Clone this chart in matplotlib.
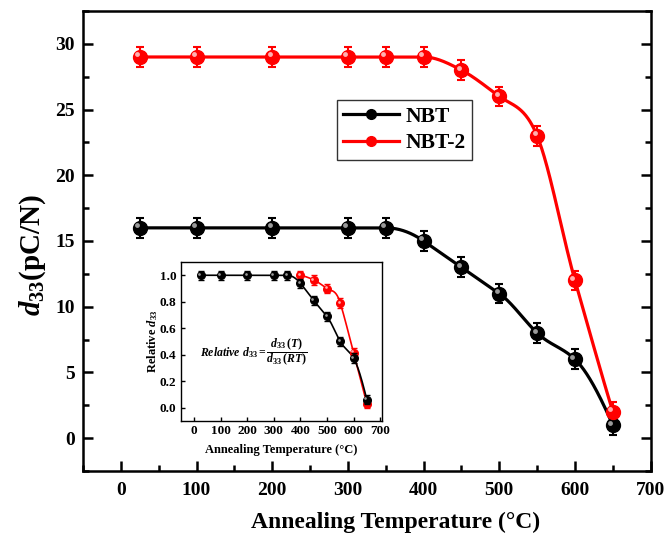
import numpy as np
import matplotlib
matplotlib.use("Agg")
import matplotlib.pyplot as plt
from matplotlib.ticker import MultipleLocator, FormatStrFormatter
from matplotlib.transforms import offset_copy
from matplotlib.lines import Line2D

plt.rcParams['font.family'] = ['Liberation Serif', 'DejaVu Serif']
plt.rcParams['font.weight'] = 'bold'
plt.rcParams['mathtext.fontset'] = 'custom'
plt.rcParams['mathtext.rm'] = 'Liberation Serif:bold'
plt.rcParams['mathtext.it'] = 'Liberation Serif:italic:bold'
plt.rcParams['mathtext.bf'] = 'Liberation Serif:bold'

# Annealing temperatures (°C)
temps = [25, 100, 200, 300, 350, 400, 450, 500, 550, 600, 650]

# d33 (pC/N)
d33_nbt = [16, 16, 16, 16, 16, 15, 13, 11, 8, 6, 1]
d33_nbt2 = [29, 29, 29, 29, 29, 29, 28, 26, 23, 12, 2]
err_main = [0.75] * 11

# Relative d33 (inset)
rel_nbt = [1.0, 1.0, 1.0, 1.0, 1.0, 0.94, 0.81, 0.69, 0.50, 0.375, 0.06]
rel_nbt2_temps = [400, 450, 500, 550, 600, 650]
rel_nbt2 = [1.0, 0.965, 0.90, 0.79, 0.415, 0.03]
err_rel = [0.035] * 11

series_labels = ['NBT', 'NBT-2']


def akima(x, y, xs):
    """Akima spline through the points (no overshoot on flat stretches)."""
    x = np.asarray(x, float)
    y = np.asarray(y, float)
    h = np.diff(x)
    m = np.diff(y) / h
    n = len(x)
    mm = np.empty(n + 3)
    mm[2:n + 1] = m
    mm[1] = 2 * mm[2] - mm[3]
    mm[0] = 2 * mm[1] - mm[2]
    mm[n + 1] = 2 * mm[n] - mm[n - 1]
    mm[n + 2] = 2 * mm[n + 1] - mm[n]
    t = np.empty(n)
    for i in range(n):
        w1 = abs(mm[i + 3] - mm[i + 2])
        w2 = abs(mm[i + 1] - mm[i])
        if w1 + w2 < 1e-12:
            t[i] = 0.5 * (mm[i + 1] + mm[i + 2])
        else:
            t[i] = (w1 * mm[i + 1] + w2 * mm[i + 2]) / (w1 + w2)
    out = np.empty(len(xs))
    idx = np.clip(np.searchsorted(x, xs) - 1, 0, n - 2)
    for j, xv in enumerate(xs):
        k = idx[j]
        s = (xv - x[k]) / h[k]
        h00 = 2 * s**3 - 3 * s**2 + 1
        h10 = s**3 - 2 * s**2 + s
        h01 = -2 * s**3 + 3 * s**2
        h11 = s**3 - s**2
        out[j] = h00 * y[k] + h10 * h[k] * t[k] + h01 * y[k + 1] + h11 * h[k] * t[k + 1]
    return out


def sphere_points(ax, x, y, yerr, color, light, ms, cap, lw_err, z=5):
    ax.errorbar(x, y, yerr=yerr, fmt='o', color=color, ms=ms, mec=color,
                capsize=cap, elinewidth=lw_err, capthick=lw_err, zorder=z)
    tr = offset_copy(ax.transData, fig=ax.figure, x=-ms * 0.18, y=ms * 0.18, units='points')
    ax.plot(x, y, 'o', color=light, ms=ms * 0.35, mec='none', transform=tr, zorder=z + 1)


fig = plt.figure(figsize=(6.66, 5.38), dpi=100)
ax = fig.add_axes([0.1246, 0.1245, 0.977 - 0.1246, 0.9796 - 0.1245])

black, red = '#000000', '#ff0000'
xs = np.linspace(25, 650, 800)
ax.plot(xs, akima(temps, d33_nbt, xs), color=black, lw=2.3, zorder=3)
ax.plot(xs, akima(temps, d33_nbt2, xs), color=red, lw=2.3, zorder=3)
sphere_points(ax, temps, d33_nbt, err_main, black, '#9a9a9a', 10, 3, 1.5)
sphere_points(ax, temps, d33_nbt2, err_main, red, '#ffb0b0', 10, 3, 1.5)

ax.set_xlim(-50, 700)
ax.set_ylim(-2.5, 32.5)
ax.xaxis.set_major_locator(MultipleLocator(100))
ax.xaxis.set_minor_locator(MultipleLocator(50))
ax.yaxis.set_major_locator(MultipleLocator(5))
ax.yaxis.set_minor_locator(MultipleLocator(2.5))
ax.tick_params(which='both', direction='in', left=True, right=True, bottom=True, top=False,
               width=1.8)
ax.tick_params(which='major', length=7, labelsize=14)
ax.tick_params(axis='x', which='major', pad=8)
ax.tick_params(axis='y', which='major', pad=6)
ax.tick_params(which='minor', length=4)
for s in ax.spines.values():
    s.set_linewidth(1.8)
ax.set_xlabel('Annealing Temperature (°C)', fontsize=17, fontweight='bold', labelpad=9)
ax.xaxis.label.set_x(0.55)
ax.set_ylabel(r'$d_{33}$(pC/N)', fontsize=21, fontweight='bold', labelpad=5)
ax.yaxis.label.set_y(0.47)

handles = [
    Line2D([], [], color=black, lw=2.3, marker='o', ms=7, mec=black),
    Line2D([], [], color=red, lw=2.3, marker='o', ms=7, mec=red),
]
leg = ax.legend(handles, series_labels, loc='upper left', bbox_to_anchor=(0.447, 0.8065),
                borderaxespad=0, prop={'size': 15.5, 'weight': 'bold'}, frameon=True,
                fancybox=False, edgecolor='black', handlelength=2.6, borderpad=0.3,
                labelspacing=0.3, handletextpad=0.3)
leg.get_frame().set_linewidth(1.0)

# Inset: relative d33
ins = fig.add_axes([0.2713, 0.2175, 0.3023, 0.2955])
xs_in = np.linspace(25, 650, 600)
xs_in2 = np.linspace(400, 650, 300)
ins.plot(xs_in2, akima(rel_nbt2_temps, rel_nbt2, xs_in2), color=red, lw=1.2, zorder=3)
ins.plot(xs_in, akima(temps, rel_nbt, xs_in), color=black, lw=1.2, zorder=4)
sphere_points(ins, rel_nbt2_temps, rel_nbt2, err_rel[:len(rel_nbt2)], red, '#ffb0b0', 5.5, 2, 1.0, z=5)
sphere_points(ins, temps, rel_nbt, err_rel, black, '#9a9a9a', 5.5, 2, 1.0, z=7)
ins.set_xlim(-50, 707)
ins.set_ylim(-0.1, 1.1)
ins.xaxis.set_major_locator(MultipleLocator(100))
ins.yaxis.set_major_locator(MultipleLocator(0.2))
ins.yaxis.set_major_formatter(FormatStrFormatter('%.1f'))
ins.tick_params(which='both', direction='in', top=False, right=False, length=3, width=1.0,
                labelsize=9.5, pad=3)
for s in ins.spines.values():
    s.set_linewidth(1.0)
ins.set_xlabel('Annealing Temperature (°C)', fontsize=9, fontweight='bold', labelpad=5)
ins.set_ylabel(r'Relative $d_{33}$', fontsize=9, fontweight='bold', labelpad=0)
ins.text(22, 0.42, r'$Relative\ d_{33} = \dfrac{d_{33}\,(T)}{d_{33}\,(RT)}$',
         fontsize=8.5, ha='left', va='center')

fig.savefig('out.png', dpi=100)
